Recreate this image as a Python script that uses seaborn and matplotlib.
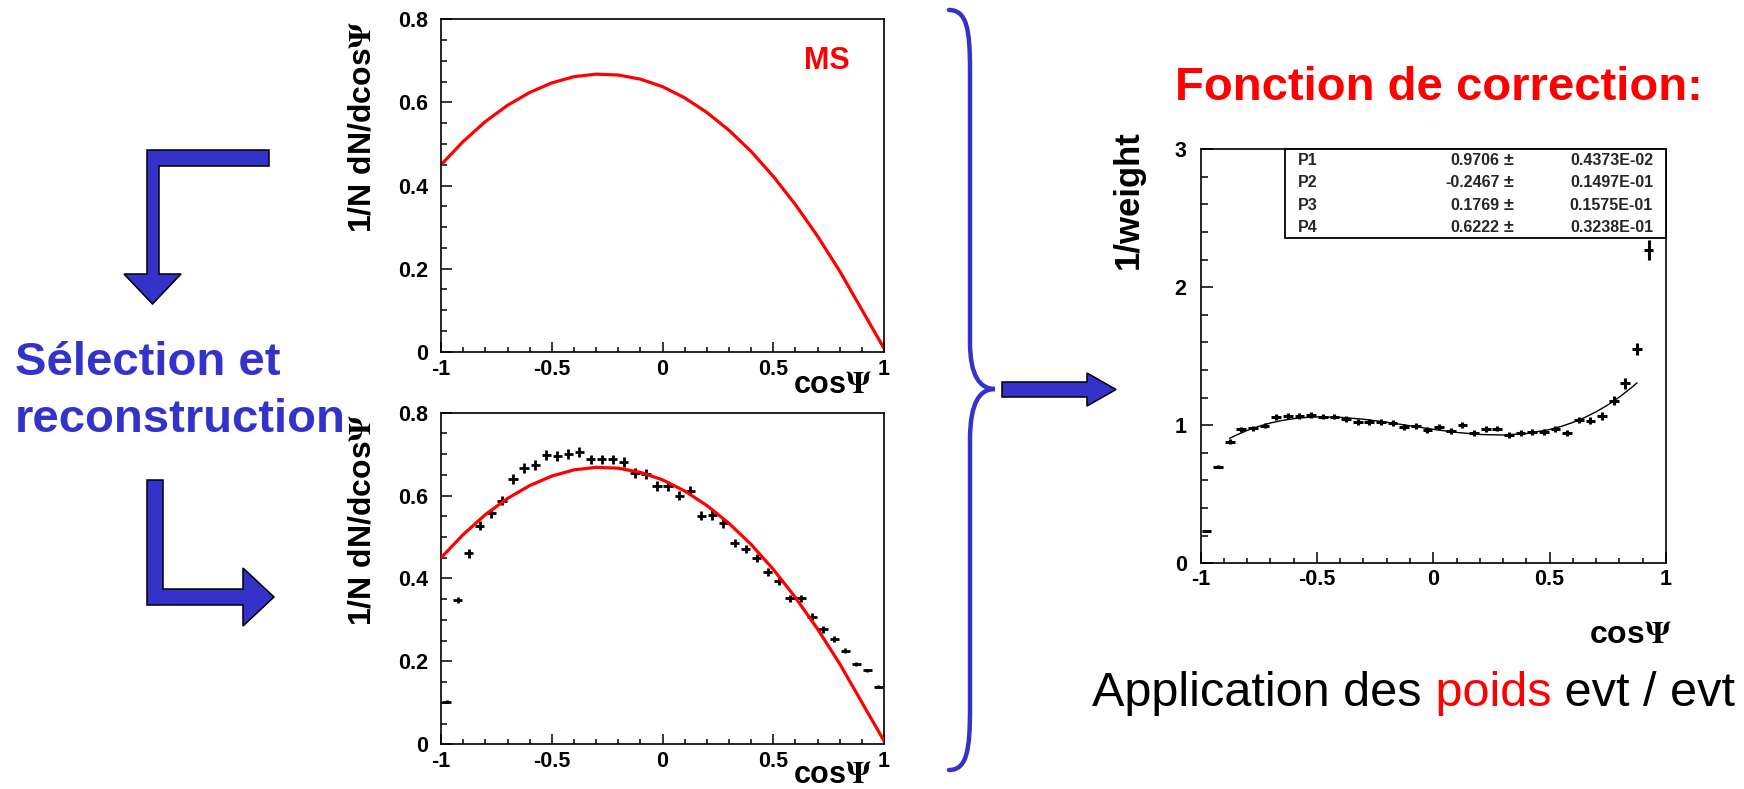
import numpy as np
import pandas as pd
import matplotlib
matplotlib.use("Agg")
import matplotlib.pyplot as plt
from matplotlib.patches import Polygon, Rectangle, PathPatch
from matplotlib.path import Path
from matplotlib.ticker import MultipleLocator, FuncFormatter
import seaborn as sns

# ---------------- data ----------------
curve_x = [-1.0, -0.9, -0.8, -0.7, -0.6, -0.5, -0.4, -0.3, -0.2, -0.1, 0.0,
           0.1, 0.2, 0.3, 0.4, 0.5, 0.6, 0.7, 0.8, 0.9, 1.0]
curve_y = [0.450, 0.506, 0.554, 0.593, 0.624, 0.647, 0.662, 0.668, 0.666, 0.656, 0.638,
           0.611, 0.576, 0.533, 0.482, 0.422, 0.354, 0.278, 0.194, 0.101, 0.008]

bin_centers = [-0.975, -0.925, -0.875, -0.825, -0.775, -0.725, -0.675, -0.625, -0.575, -0.525,
               -0.475, -0.425, -0.375, -0.325, -0.275, -0.225, -0.175, -0.125, -0.075, -0.025,
               0.025, 0.075, 0.125, 0.175, 0.225, 0.275, 0.325, 0.375, 0.425, 0.475,
               0.525, 0.575, 0.625, 0.675, 0.725, 0.775, 0.825, 0.875, 0.925, 0.975]
bin_half = 0.021

reco_y = [0.103, 0.348, 0.461, 0.527, 0.557, 0.588, 0.641, 0.666, 0.674, 0.698,
          0.695, 0.700, 0.704, 0.687, 0.687, 0.687, 0.681, 0.655, 0.652, 0.623,
          0.623, 0.600, 0.612, 0.551, 0.553, 0.533, 0.485, 0.471, 0.449, 0.416,
          0.394, 0.352, 0.352, 0.308, 0.277, 0.253, 0.226, 0.194, 0.178, 0.139]
reco_err = [0.003, 0.007, 0.011, 0.011, 0.011, 0.011, 0.012, 0.012, 0.012, 0.012,
            0.012, 0.012, 0.012, 0.012, 0.012, 0.012, 0.012, 0.012, 0.012, 0.011,
            0.011, 0.011, 0.011, 0.011, 0.011, 0.011, 0.010, 0.010, 0.010, 0.010,
            0.010, 0.009, 0.009, 0.009, 0.008, 0.007, 0.006, 0.005, 0.004, 0.004]

ratio_x = bin_centers[:39]
ratio_y = [0.234, 0.700, 0.882, 0.971, 0.978, 0.998, 1.058, 1.068, 1.068, 1.075,
           1.063, 1.063, 1.048, 1.022, 1.022, 1.022, 1.019, 0.990, 0.995, 0.966,
           0.986, 0.961, 1.002, 0.942, 0.971, 0.976, 0.928, 0.942, 0.954, 0.954,
           0.976, 0.942, 1.039, 1.034, 1.068, 1.179, 1.304, 1.553, 2.271]
ratio_err = [0.008, 0.012, 0.020, 0.020, 0.020, 0.020, 0.021, 0.021, 0.021, 0.021,
             0.021, 0.021, 0.021, 0.021, 0.021, 0.021, 0.021, 0.021, 0.021, 0.021,
             0.021, 0.021, 0.021, 0.021, 0.021, 0.021, 0.021, 0.021, 0.021, 0.021,
             0.022, 0.022, 0.024, 0.025, 0.027, 0.032, 0.040, 0.045, 0.072]

fit_x = [-0.875, -0.85, -0.8, -0.75, -0.7, -0.65, -0.6, -0.55, -0.5, -0.4, -0.3, -0.2, -0.1, 0.0,
         0.1, 0.2, 0.3, 0.4, 0.5, 0.55, 0.6, 0.65, 0.7, 0.75, 0.8, 0.85, 0.875]
fit_y = [0.9051, 0.9260, 0.9626, 0.9926, 1.0166, 1.0348, 1.0479, 1.0563, 1.0604, 1.0578,
         1.0437, 1.0220, 0.9964, 0.9706, 0.9483, 0.9333, 0.9293, 0.9400, 0.9693, 0.9919,
         1.0207, 1.0559, 1.0980, 1.1476, 1.2050, 1.2708, 1.3070]

par_names = ["P1", "P2", "P3", "P4"]
par_values = ["0.9706", "-0.2467", "0.1769", "0.6222"]
par_errors = ["0.4373E-02", "0.1497E-01", "0.1575E-01", "0.3238E-01"]

# ---------------- style ----------------
sns.set_theme(style="white")
plt.rcParams["font.family"] = ["Liberation Sans", "DejaVu Sans"]
plt.rcParams["font.weight"] = "bold"
plt.rcParams["axes.unicode_minus"] = False
plt.rcParams["mathtext.fontset"] = "stix"

BLUE = "#3333CC"
RED = "#FF0000"
PSI = r"$\mathbf{\Psi}$"

fig = plt.figure(figsize=(17.44, 7.89), dpi=100)

# overlay in pixel coordinates (y downwards) for decorations
ov = fig.add_axes([0, 0, 1, 1], zorder=0)
ov.set_xlim(0, 1744)
ov.set_ylim(789, 0)
ov.set_axis_off()
ov.patch.set_alpha(0)


def fmt(v, p):
    v = round(v, 6)
    if v == 0:
        return "0"
    return f"{v:g}"


def style_axes(ax, ymax, ymajor, yminor, ylen, xlen, ypad, xpad):
    ax.set_xlim(-1, 1)
    ax.set_ylim(0, ymax)
    ax.xaxis.set_major_locator(MultipleLocator(0.5))
    ax.xaxis.set_minor_locator(MultipleLocator(0.1))
    ax.yaxis.set_major_locator(MultipleLocator(ymajor))
    ax.yaxis.set_minor_locator(MultipleLocator(yminor))
    ax.xaxis.set_major_formatter(FuncFormatter(fmt))
    ax.yaxis.set_major_formatter(FuncFormatter(fmt))
    ax.tick_params(which="both", direction="in", top=False, right=False,
                   bottom=True, left=True, width=1.1, color="black",
                   labelcolor="black", labelsize=15.5)
    ax.tick_params(axis="y", which="major", length=ylen[0], pad=ypad)
    ax.tick_params(axis="y", which="minor", length=ylen[1])
    ax.tick_params(axis="x", which="major", length=xlen[0], pad=xpad)
    ax.tick_params(axis="x", which="minor", length=xlen[1])
    for s in ax.spines.values():
        s.set_color("black")
        s.set_linewidth(1.2)
        s.set_visible(True)
    ax.grid(False)


def set_labels(ax, xl, yl, xpos, ypos, xsize, ysize):
    ax.set_xlabel(xl, fontsize=xsize, fontweight="bold", color="black")
    ax.set_ylabel(yl, fontsize=ysize, fontweight="bold", color="black")
    ax.xaxis.label.set_ha("right")
    ax.xaxis.label.set_va("baseline")
    ax.xaxis.set_label_coords(*xpos)
    ax.yaxis.label.set_ha("right")
    ax.yaxis.label.set_va("center")
    ax.yaxis.set_label_coords(*ypos)


curve_df = pd.DataFrame({"cos": curve_x, "val": curve_y})

# ---------------- top panel ----------------
ax1 = fig.add_axes([0.2529, 0.5542, 0.2540, 0.4213], zorder=2)
ax1.set_facecolor("white")
sns.lineplot(data=curve_df, x="cos", y="val", ax=ax1, color=RED, linewidth=2.3,
             sort=False, estimator=None)
style_axes(ax1, 0.8, 0.2, 0.05, (8, 4.3), (7, 3.6), 9, 5)
set_labels(ax1, "cos" + PSI, "1/N dN/dcos" + PSI, (0.973, -0.124), (-0.178, 0.995), 22, 23)
ax1.text(0.871, 0.875, "MS", transform=ax1.transAxes, color=RED, fontsize=22,
         fontweight="bold", ha="center", va="center")

# ---------------- bottom panel ----------------
ax2 = fig.add_axes([0.2529, 0.0567, 0.2540, 0.4203], zorder=2)
ax2.set_facecolor("white")
ax2.errorbar(bin_centers, reco_y, xerr=bin_half, yerr=reco_err, fmt="none",
             ecolor="black", elinewidth=2.0, capsize=0, zorder=3)
sns.lineplot(data=curve_df, x="cos", y="val", ax=ax2, color=RED, linewidth=2.3,
             sort=False, estimator=None, zorder=4)
style_axes(ax2, 0.8, 0.2, 0.05, (8, 4.3), (7, 3.6), 9, 5)
set_labels(ax2, "cos" + PSI, "1/N dN/dcos" + PSI, (0.973, -0.117), (-0.178, 0.998), 22, 23)

# ---------------- right panel ----------------
ax3 = fig.add_axes([0.6884, 0.2861, 0.2669, 0.5247], zorder=2)
ax3.set_facecolor("white")
ax3.errorbar(ratio_x, ratio_y, xerr=bin_half, yerr=ratio_err, fmt="none",
             ecolor="black", elinewidth=2.2, capsize=0, zorder=3)
fit_df = pd.DataFrame({"cos": fit_x, "w": fit_y})
sns.lineplot(data=fit_df, x="cos", y="w", ax=ax3, color="black", linewidth=1.0,
             sort=False, estimator=None, zorder=4)
style_axes(ax3, 3, 1, 0.2, (8.6, 5), (7.7, 3.6), 10, 4)
set_labels(ax3, "cos" + PSI, "1/weight", (1.011, -0.1925), (-0.156, 1.047), 23, 25)

# stats box
ax3.add_patch(Rectangle((0.181, 0.785), 0.819, 0.215, transform=ax3.transAxes,
                        facecolor="white", edgecolor="black", linewidth=1.3,
                        zorder=5, clip_on=False))
row_y = [0.974, 0.919, 0.863, 0.811]
for n, v, e, yy in zip(par_names, par_values, par_errors, row_y):
    ax3.text(0.210, yy, n, transform=ax3.transAxes, fontsize=11.5, fontweight="bold",
             ha="left", va="center", zorder=6)
    ax3.text(0.643, yy, v, transform=ax3.transAxes, fontsize=11.5, fontweight="bold",
             ha="right", va="center", zorder=6)
    ax3.text(0.650, yy, "±", transform=ax3.transAxes, fontsize=13, fontweight="bold",
             ha="left", va="center", zorder=6)
    ax3.text(0.972, yy, e, transform=ax3.transAxes, fontsize=11.5, fontweight="bold",
             ha="right", va="center", zorder=6)

# ---------------- decorations (pixel coords) ----------------
arrow_kw = dict(facecolor=BLUE, edgecolor="black", linewidth=1.1, closed=True, zorder=1)
ov.add_patch(Polygon([(269, 150), (147, 150), (147, 274), (124, 274), (152.5, 304),
                      (181, 274), (159, 274), (159, 166), (269, 166)], **arrow_kw))
ov.add_patch(Polygon([(147, 480), (163, 480), (163, 589), (243, 589), (243, 568),
                      (274, 597), (243, 626), (243, 605), (147, 605)], **arrow_kw))
ov.add_patch(Polygon([(1002, 382), (1087, 382), (1087, 373), (1116, 389.5),
                      (1087, 406), (1087, 397), (1002, 397)], **arrow_kw))

brace_v = [(949, 10), (967, 10), (970, 30), (970, 70),
           (970, 342),
           (970, 376), (980, 389), (995, 389),
           (980, 389), (970, 402), (970, 440),
           (970, 708),
           (970, 750), (967, 770), (949, 770)]
brace_c = [Path.MOVETO, Path.CURVE4, Path.CURVE4, Path.CURVE4,
           Path.LINETO,
           Path.CURVE4, Path.CURVE4, Path.CURVE4,
           Path.CURVE4, Path.CURVE4, Path.CURVE4,
           Path.LINETO,
           Path.CURVE4, Path.CURVE4, Path.CURVE4]
ov.add_patch(PathPatch(Path(brace_v, brace_c), facecolor="none", edgecolor=BLUE,
                       linewidth=3.2, capstyle="round", zorder=1))

ov.text(15, 375, "Sélection et", color=BLUE, fontsize=34, fontweight="bold",
        ha="left", va="baseline")
ov.text(15, 432, "reconstruction", color=BLUE, fontsize=34, fontweight="bold",
        ha="left", va="baseline")

ov.text(1175, 100, "Fonction de correction:", color=RED, fontsize=34,
        fontweight="bold", ha="left", va="baseline")

t1 = ov.text(1092, 706, "Application des", color="black", fontsize=35,
             fontweight="normal", ha="left", va="baseline")
t2 = ov.annotate(" poids", xy=(1, 706), xycoords=(t1, "data"), color=RED,
                 fontsize=35, fontweight="normal", ha="left", va="baseline")
t3 = ov.annotate(" evt / evt", xy=(1, 706), xycoords=(t2, "data"), color="black",
                 fontsize=35, fontweight="normal", ha="left", va="baseline")

fig.savefig("out.png", dpi=100, facecolor="white")
